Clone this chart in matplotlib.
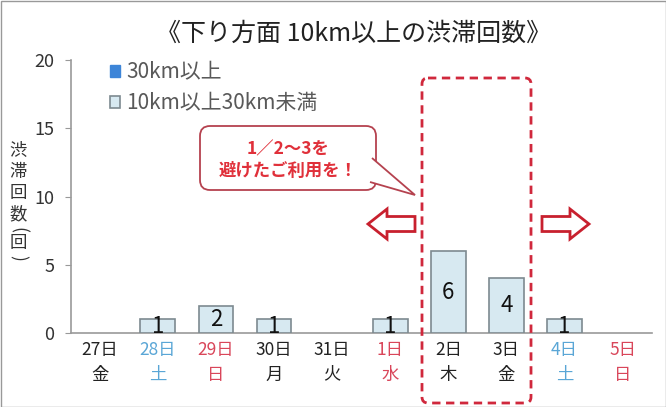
import numpy as np
import matplotlib
matplotlib.use("Agg")
import matplotlib.pyplot as plt
import matplotlib.transforms as mtransforms
from matplotlib.patches import FancyBboxPatch, Polygon, FancyArrow, Rectangle, Patch

plt.rcParams['font.family'] = ['Noto Sans CJK JP', 'DejaVu Sans']

# データ
days = ["27日", "28日", "29日", "30日", "31日", "1日", "2日", "3日", "4日", "5日"]
weekdays = ["金", "土", "日", "月", "火", "水", "木", "金", "土", "日"]
over30 = [0, 0, 0, 0, 0, 0, 0, 0, 0, 0]
from10to30 = [0, 1, 2, 1, 0, 1, 6, 4, 1, 0]
yticks = [0, 5, 10, 15, 20]

BLUE = "#5aa6d6"
RED = "#d9465a"
day_colors = ["#222222", BLUE, RED, "#222222", "#222222", RED,
              "#222222", "#222222", BLUE, RED]

W, H = 666, 407
fig = plt.figure(figsize=(W / 100, H / 100), dpi=100)
ax = fig.add_axes([70.7 / W, 1 - 333 / H, 581 / W, (333 - 60) / H])

# ピクセル座標 (左上原点)
pix = mtransforms.Affine2D().scale(1 / W, -1 / H).translate(0, 1) + fig.transFigure

x = np.arange(len(days))
b30 = ax.bar(x, over30, width=0.6, color="#3d85d8",
             linewidth=[1.0 if v > 0 else 0 for v in over30], edgecolor="#3d85d8")
b10 = ax.bar(x, from10to30, width=0.6, bottom=over30, color="#d7e9f1",
             edgecolor="#7d8a90",
             linewidth=[1.2 if v > 0 else 0 for v in from10to30], zorder=3)

for xi, v, b in zip(x, from10to30, over30):
    if v > 0:
        ax.text(xi, b + v / 2, str(v), ha="center", va="center",
                fontsize=16, color="#111111", zorder=4)

ax.set_xlim(-0.5, len(days) - 0.5)
ax.set_ylim(0, 20)
ax.set_yticks(yticks)
ax.tick_params(axis="y", labelsize=13, labelcolor="#333333", color="#999999",
               length=4, pad=8)
labels = [d + "\n" + w for d, w in zip(days, weekdays)]
ax.set_xticks(x, labels)
ax.tick_params(axis="x", length=0, labelsize=12.5, pad=6)
for lab, c in zip(ax.get_xticklabels(), day_colors):
    lab.set_color(c)
    lab.set_linespacing(1.45)
for s in ["top", "right"]:
    ax.spines[s].set_visible(False)
for s in ["left", "bottom"]:
    ax.spines[s].set_color("#9a9a9a")
    ax.spines[s].set_linewidth(1.2)

h30 = Patch(facecolor="#3d85d8", edgecolor="#3d85d8")
h10 = Patch(facecolor="#d7e9f1", edgecolor="#7d8a90", linewidth=1.2)
leg = ax.legend(handles=[h30, h10], labels=["30km以上", "10km以上30km未満"],
                loc="upper left", bbox_to_anchor=(0.035, 1.065), frameon=False,
                fontsize=15, handlelength=0.5, handleheight=0.5,
                handletextpad=0.3, labelspacing=0.45, labelcolor="#595959")

# タイトル
fig.text(354, 34, "《下り方面 10km以上の渋滞回数》", transform=pix,
         ha="center", va="center", fontsize=18, color="#222222")

# 縦書きの軸ラベル (括弧は回転させる)
ylab_chars = ["渋", "滞", "回", "数", "(", "回", ")"]
ylab_pos = [151, 172, 193, 214, 230, 243, 258]
ylab_rot = [0, 0, 0, 0, -90, 0, -90]
for ch, py, rot in zip(ylab_chars, ylab_pos, ylab_rot):
    fig.text(18, py, ch, transform=pix, ha="center", va="center",
             fontsize=12.5, color="#333333", rotation=rot)

# 吹き出し
box = FancyBboxPatch((200, 126), 176, 64, boxstyle="round,pad=0,rounding_size=10",
                     transform=pix, facecolor="white", edgecolor="#b5424f",
                     linewidth=1.3, zorder=5)
fig.patches.append(box)
tail = Polygon([(372, 158), (415, 195), (370, 182)], closed=False, transform=pix,
               facecolor="white", edgecolor="#b5424f", linewidth=1.3, zorder=6)
fig.patches.append(tail)
fig.text(288, 149, "1／2～3を", transform=pix, ha="center", va="center",
         fontsize=12.5, fontweight="bold", color="#e0303a", zorder=7)
fig.text(288, 171, "避けたご利用を！", transform=pix, ha="center", va="center",
         fontsize=12.5, fontweight="bold", color="#e0303a", zorder=7)

# 点線枠
frame = FancyBboxPatch((422, 78), 109, 325, boxstyle="round,pad=0,rounding_size=6",
                       transform=pix, facecolor="none", edgecolor="#d0283c",
                       linewidth=2, linestyle=(0, (3, 2)), zorder=8)
fig.patches.append(frame)

# 矢印
for x0, dx in [(415, -47), (542, 47)]:
    arr = FancyArrow(x0, 224, dx, 0, width=15, head_width=30, head_length=19,
                     length_includes_head=True, transform=pix,
                     facecolor="white", edgecolor="#c8202e", linewidth=2, zorder=6)
    fig.patches.append(arr)

# 外枠
fig.patches.append(Rectangle((0.5, 0.5), W - 1, H - 1, transform=pix,
                             facecolor="none", edgecolor="#999999", linewidth=1))

fig.savefig("out.png", dpi=100)
